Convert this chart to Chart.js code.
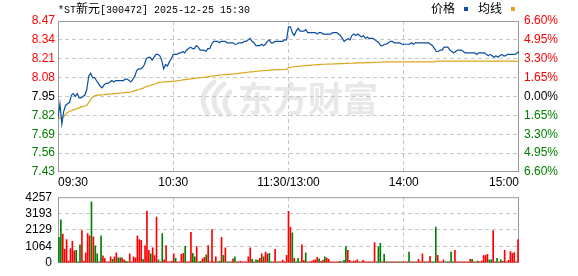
<!DOCTYPE html>
<html>
<head>
<meta charset="utf-8">
<script src="https://cdn.jsdelivr.net/npm/chart.js@4.4.1/dist/chart.umd.min.js"></script>
<style>
html,body{margin:0;padding:0;background:#fff;}
#wrap{position:relative;width:578px;height:276px;overflow:hidden;background:#fff;}
#mainChart{position:absolute;left:0;top:0;}
#volChart{position:absolute;left:0;top:184px;}
#title{position:absolute;left:58px;top:1px;font-family:"Liberation Mono",monospace;font-size:10px;line-height:14px;color:#000;white-space:nowrap;}
#title .cn{font-family:"Noto Sans CJK SC";font-size:12px;}
#legend{position:absolute;left:431px;top:0px;font-family:"Noto Sans CJK SC";font-size:12px;line-height:16px;color:#000;white-space:nowrap;}
#legend i{display:inline-block;width:4px;height:4px;margin:0 10px 0 9px;vertical-align:2px;}
</style>
</head>
<body>
<div id="wrap">
  <canvas id="mainChart" width="578" height="190"></canvas>
  <canvas id="volChart" width="578" height="92"></canvas>
  <div id="title">*ST<span class="cn">新元</span>[300472] 2025-12-25 15:30</div>
  <div id="legend">价格<i style="background:#0b4ea2"></i>均线<i style="background:#dca51e"></i></div>
</div>
<script>
/* ===============================
   DATA
=============================== */

// x axis: minutes since 09:30 (lunch break removed), 0..240
const xTickPos = [0, 60, 120, 180, 240];
const xTickLabels = ["09:30", "10:30", "11:30/13:00", "14:00", "15:00"];

// price axis (prev close 7.95)
const priceTicks = [7.43, 7.56, 7.69, 7.82, 7.95, 8.08, 8.21, 8.34, 8.47];
const priceTickLabels = ["7.43", "7.56", "7.69", "7.82", "7.95", "8.08", "8.21", "8.34", "8.47"];
const pctTickLabels = ["6.60%", "4.95%", "3.30%", "1.65%", "0.00%", "1.65%", "3.30%", "4.95%", "6.60%"];

// volume axis
const volTicks = [0, 1064, 2129, 3193, 4257];
const volTickLabels = ["0", "1064", "2129", "3193", "4257"];

// price, one per minute
const priceValues = [
7.80,7.90,7.76,7.85,7.89,7.90,7.91,7.96,7.97,7.95,
7.97,7.94,7.94,7.95,7.96,8.00,8.09,8.11,8.08,8.08,
8.06,8.04,8.02,8.01,8.03,8.04,8.04,8.05,8.06,8.05,
8.06,8.06,8.06,8.06,8.06,8.07,8.07,8.06,8.05,8.07,
8.09,8.13,8.14,8.14,8.15,8.17,8.21,8.22,8.22,8.20,
8.22,8.24,8.24,8.23,8.20,8.14,8.17,8.16,8.19,8.21,
8.24,8.24,8.24,8.25,8.25,8.26,8.25,8.27,8.28,8.29,
8.28,8.28,8.30,8.29,8.27,8.27,8.27,8.26,8.28,8.28,
8.31,8.33,8.33,8.33,8.32,8.33,8.33,8.33,8.32,8.32,
8.32,8.32,8.31,8.31,8.32,8.32,8.32,8.33,8.33,8.34,
8.35,8.33,8.32,8.30,8.30,8.30,8.31,8.30,8.31,8.33,
8.34,8.32,8.32,8.33,8.33,8.33,8.33,8.33,8.34,8.34,
8.43,8.43,8.39,8.37,8.40,8.42,8.40,8.40,8.40,8.41,
8.39,8.39,8.39,8.39,8.39,8.38,8.39,8.39,8.38,8.38,
8.38,8.38,8.38,8.39,8.39,8.39,8.38,8.37,8.35,8.33,
8.34,8.35,8.34,8.37,8.38,8.37,8.38,8.37,8.36,8.37,
8.35,8.36,8.35,8.35,8.35,8.34,8.33,8.32,8.30,8.30,
8.31,8.31,8.32,8.33,8.33,8.32,8.32,8.32,8.32,8.31,
8.31,8.31,8.31,8.31,8.32,8.31,8.32,8.32,8.32,8.32,
8.32,8.32,8.32,8.32,8.31,8.30,8.28,8.26,8.26,8.27,
8.27,8.29,8.29,8.29,8.27,8.26,8.25,8.26,8.27,8.27,
8.27,8.26,8.25,8.25,8.25,8.25,8.25,8.25,8.24,8.25,
8.25,8.25,8.25,8.24,8.23,8.24,8.23,8.22,8.23,8.22,
8.23,8.24,8.23,8.23,8.24,8.24,8.24,8.24,8.24,8.25,
8.26
];

// average price line, one per minute
const avgValues = [
7.800,7.800,7.810,7.810,7.830,7.840,7.850,7.850,7.860,7.860,
7.870,7.870,7.880,7.880,7.885,7.890,7.910,7.925,7.945,7.955,
7.958,7.960,7.960,7.962,7.963,7.965,7.966,7.967,7.968,7.970,
7.970,7.972,7.973,7.974,7.975,7.977,7.978,7.979,7.981,7.985,
7.990,7.994,7.998,8.002,8.006,8.012,8.018,8.022,8.026,8.030,
8.034,8.040,8.045,8.047,8.048,8.050,8.051,8.052,8.053,8.054,
8.055,8.056,8.058,8.060,8.062,8.064,8.066,8.068,8.070,8.072,
8.073,8.075,8.076,8.078,8.080,8.081,8.082,8.084,8.086,8.088,
8.090,8.093,8.094,8.095,8.097,8.098,8.100,8.101,8.102,8.103,
8.104,8.105,8.106,8.107,8.109,8.111,8.113,8.114,8.116,8.117,
8.119,8.120,8.121,8.123,8.124,8.126,8.127,8.128,8.129,8.130,
8.131,8.132,8.133,8.134,8.135,8.135,8.135,8.136,8.136,8.137,
8.148,8.151,8.153,8.155,8.157,8.158,8.159,8.160,8.162,8.163,
8.164,8.165,8.166,8.167,8.168,8.169,8.170,8.171,8.172,8.172,
8.173,8.173,8.174,8.174,8.175,8.175,8.176,8.176,8.177,8.177,
8.178,8.178,8.179,8.179,8.180,8.180,8.181,8.181,8.182,8.182,
8.183,8.183,8.184,8.184,8.185,8.185,8.186,8.186,8.187,8.188,
8.188,8.188,8.188,8.188,8.188,8.188,8.188,8.188,8.188,8.188,
8.188,8.188,8.188,8.188,8.188,8.188,8.188,8.188,8.188,8.188,
8.188,8.188,8.188,8.188,8.188,8.188,8.188,8.193,8.193,8.193,
8.193,8.193,8.193,8.193,8.193,8.193,8.193,8.193,8.193,8.193,
8.193,8.193,8.193,8.193,8.193,8.193,8.193,8.193,8.193,8.193,
8.193,8.193,8.193,8.193,8.193,8.193,8.193,8.193,8.193,8.193,
8.193,8.193,8.193,8.193,8.193,8.193,8.193,8.193,8.193,8.193,
8.193
];

// volume (lots), one per minute
const volumeValues = [
1646,2789,1860,872,1511,97,930,1395,775,814,
58,1162,2092,97,640,1898,1743,3952,1685,1104,
581,58,1743,446,271,58,58,387,232,387,
640,329,329,329,194,116,58,581,58,387,
329,1743,1511,1453,232,1104,3351,814,581,969,
465,2964,194,58,1898,194,1123,58,58,97,
581,290,58,58,542,620,1065,58,58,1976,
620,387,1046,58,97,252,349,523,1123,58,
2150,58,387,58,116,1646,484,969,58,58,
58,252,387,58,58,97,58,58,58,387,
969,232,58,194,155,290,581,387,697,581,
620,58,58,872,58,58,58,174,58,484,
3332,2324,1937,290,58,290,58,1162,136,639,
58,58,97,155,194,349,252,97,155,387,
310,232,58,58,58,58,58,97,58,155,
1046,814,155,58,116,116,194,58,58,155,
58,58,58,58,58,1317,58,1046,1259,58,
542,58,58,58,58,58,58,58,58,58,
58,58,58,697,58,58,58,58,232,58,
581,58,58,58,426,58,58,2324,484,58,
58,194,58,58,58,697,58,814,58,58,
58,58,58,58,58,232,232,58,58,116,
58,116,465,484,542,194,194,2092,58,290,
58,194,97,814,58,155,736,620,659,58,
1511
];

// r = up (red), g = down (green), one per minute
const volumeDir = [
"ggrrrrrrrg","ggrrrrrgrg","grgrrrrrgr","rggrrggrrr","rrrrgrrrgr",
"rrgrgrrrrr","rgrrrrgrrr","ggrggrrgrr","rrrggrgrgg","rrgrrrrrrr",
"rgrggrrgrr","ggrrgrrrrr","rrgrgggrrg","rrrrrrgrrg","rrrrrrrgrg",
"grrrrrrgrr","rrrrrrgggr","grgrgrrrgg","rrrgrrgrrr","rgrrrgggrr",
"rrggrggrrr","rrrrrrgrrg","rrrrrggrrg","rgrrrrrrrr","r"
].join("").split("");

/* ===============================
   STYLE
=============================== */

const PRICE_BLUE = "#0b4ea2";
const AVG_ORANGE = "#dca51e";
const UP_RED = "#ff0000";
const DOWN_GREEN = "#008000";
const GRID = "#c8c8c8";
const FRAME = "#9a9a9a";
const TICK_FONT = { family: "'Liberation Sans', Arial, sans-serif", size: 12 };

function tickColor(i){
    if(i < 4) return DOWN_GREEN;
    if(i === 4) return "#000000";
    return UP_RED;
}

// box round the plot area
const frameBox = {
    id: "frameBox",
    beforeDatasetsDraw(chart){
        const a = chart.chartArea;
        const c = chart.ctx;
        c.save();
        c.strokeStyle = FRAME;
        c.lineWidth = 1;
        c.strokeRect(a.left + 0.5, a.top + 0.5, a.right - a.left - 1, a.bottom - a.top - 1);
        c.restore();
    }
};

// faint brand watermark behind the lines
const watermark = {
    id: "watermark",
    beforeDraw(chart){
        const c = chart.ctx;
        c.save();
        c.fillStyle = "#e8e8e8";
        c.strokeStyle = "#e8e8e8";
        // swirl logo
        c.lineWidth = 5;
        c.lineCap = "round";
        c.beginPath();
        c.moveTo(214, 82);
        c.quadraticCurveTo(196, 96, 208, 114);
        c.stroke();
        c.beginPath();
        c.moveTo(224, 84);
        c.quadraticCurveTo(206, 98, 220, 114);
        c.stroke();
        c.beginPath();
        c.moveTo(230, 92);
        c.quadraticCurveTo(220, 104, 230, 114);
        c.stroke();
        c.font = "bold 35px 'Noto Sans CJK SC'";
        c.textBaseline = "middle";
        c.fillText("东方财富", 238, 99);
        c.restore();
    }
};

/* ===============================
   PRICE CHART
=============================== */

new Chart(document.getElementById("mainChart"), {
    type: "line",
    data: {
        datasets: [
            {
                label: "价格",
                data: priceValues.map((v, i) => ({ x: i, y: v })),
                borderColor: PRICE_BLUE,
                borderWidth: 1.2,
                pointRadius: 0,
                tension: 0,
                yAxisID: "y"
            },
            {
                label: "均线",
                data: avgValues.map((v, i) => ({ x: i, y: v })),
                borderColor: AVG_ORANGE,
                borderWidth: 1.2,
                pointRadius: 0,
                tension: 0,
                yAxisID: "y"
            }
        ]
    },
    options: {
        responsive: false,
        animation: false,
        devicePixelRatio: 1,
        layout: { padding: { top: 21, left: 0, right: 0, bottom: 0 } },
        plugins: { legend: { display: false }, tooltip: { enabled: false } },
        scales: {
            x: {
                type: "linear",
                min: 0,
                max: 240,
                afterBuildTicks: s => { s.ticks = xTickPos.map(v => ({ value: v })); },
                afterFit: s => { s.height = 18; },
                ticks: {
                    callback: (v, i) => xTickLabels[i],
                    align: "inner",
                    autoSkip: false,
                    maxRotation: 0,
                    padding: 3,
                    color: "#000",
                    font: TICK_FONT
                },
                grid: {
                    color: ctx => (ctx.index === 0 || ctx.index === xTickPos.length - 1) ? "rgba(0,0,0,0)" : GRID,
                    drawTicks: false
                },
                border: { display: false, dash: [4, 3] }
            },
            y: {
                position: "left",
                min: priceTicks[0],
                max: priceTicks[priceTicks.length - 1],
                afterBuildTicks: s => { s.ticks = priceTicks.map(v => ({ value: v })); },
                afterFit: s => { s.width = 58; },
                ticks: {
                    callback: (v, i) => priceTickLabels[i],
                    color: ctx => tickColor(ctx.index),
                    padding: 3,
                    font: TICK_FONT
                },
                grid: {
                    color: ctx => (ctx.index === 0 || ctx.index === priceTicks.length - 1) ? "rgba(0,0,0,0)" : GRID,
                    drawTicks: false
                },
                border: { display: false, dash: [4, 3] }
            },
            y2: {
                position: "right",
                min: priceTicks[0],
                max: priceTicks[priceTicks.length - 1],
                afterBuildTicks: s => { s.ticks = priceTicks.map(v => ({ value: v })); },
                afterFit: s => { s.width = 59; },
                ticks: {
                    callback: (v, i) => pctTickLabels[i],
                    color: ctx => tickColor(ctx.index),
                    padding: 5,
                    font: TICK_FONT
                },
                grid: { display: false, drawTicks: false },
                border: { display: false }
            }
        }
    },
    plugins: [watermark, frameBox]
});

/* ===============================
   VOLUME CHART
=============================== */

new Chart(document.getElementById("volChart"), {
    type: "bar",
    data: {
        datasets: [{
            label: "成交量",
            data: volumeValues.map((v, i) => ({ x: i, y: v })),
            backgroundColor: volumeDir.map(d => d === "r" ? UP_RED : DOWN_GREEN),
            barThickness: 1,
            borderWidth: 0
        }]
    },
    options: {
        responsive: false,
        animation: false,
        devicePixelRatio: 1,
        layout: { padding: { top: 12, left: 0, right: 59, bottom: 0 } },
        plugins: { legend: { display: false }, tooltip: { enabled: false } },
        scales: {
            x: {
                type: "linear",
                min: -0.5,
                max: 240.5,
                offset: false,
                afterBuildTicks: s => { s.ticks = xTickPos.slice(1, 4).map(v => ({ value: v })); },
                afterFit: s => { s.height = 5; },
                ticks: { display: false },
                grid: { color: GRID, drawTicks: false, offset: false },
                border: { display: false, dash: [4, 3] }
            },
            y: {
                min: 0,
                max: volTicks[volTicks.length - 1],
                afterBuildTicks: s => { s.ticks = volTicks.map(v => ({ value: v })); },
                afterFit: s => { s.width = 58; },
                ticks: {
                    callback: (v, i) => volTickLabels[i],
                    color: "#000",
                    padding: 6,
                    font: TICK_FONT
                },
                grid: {
                    color: ctx => (ctx.index === 0 || ctx.index === volTicks.length - 1) ? "rgba(0,0,0,0)" : GRID,
                    drawTicks: false
                },
                border: { display: false, dash: [4, 3] }
            }
        }
    },
    plugins: [frameBox]
});
</script>
</body>
</html>
